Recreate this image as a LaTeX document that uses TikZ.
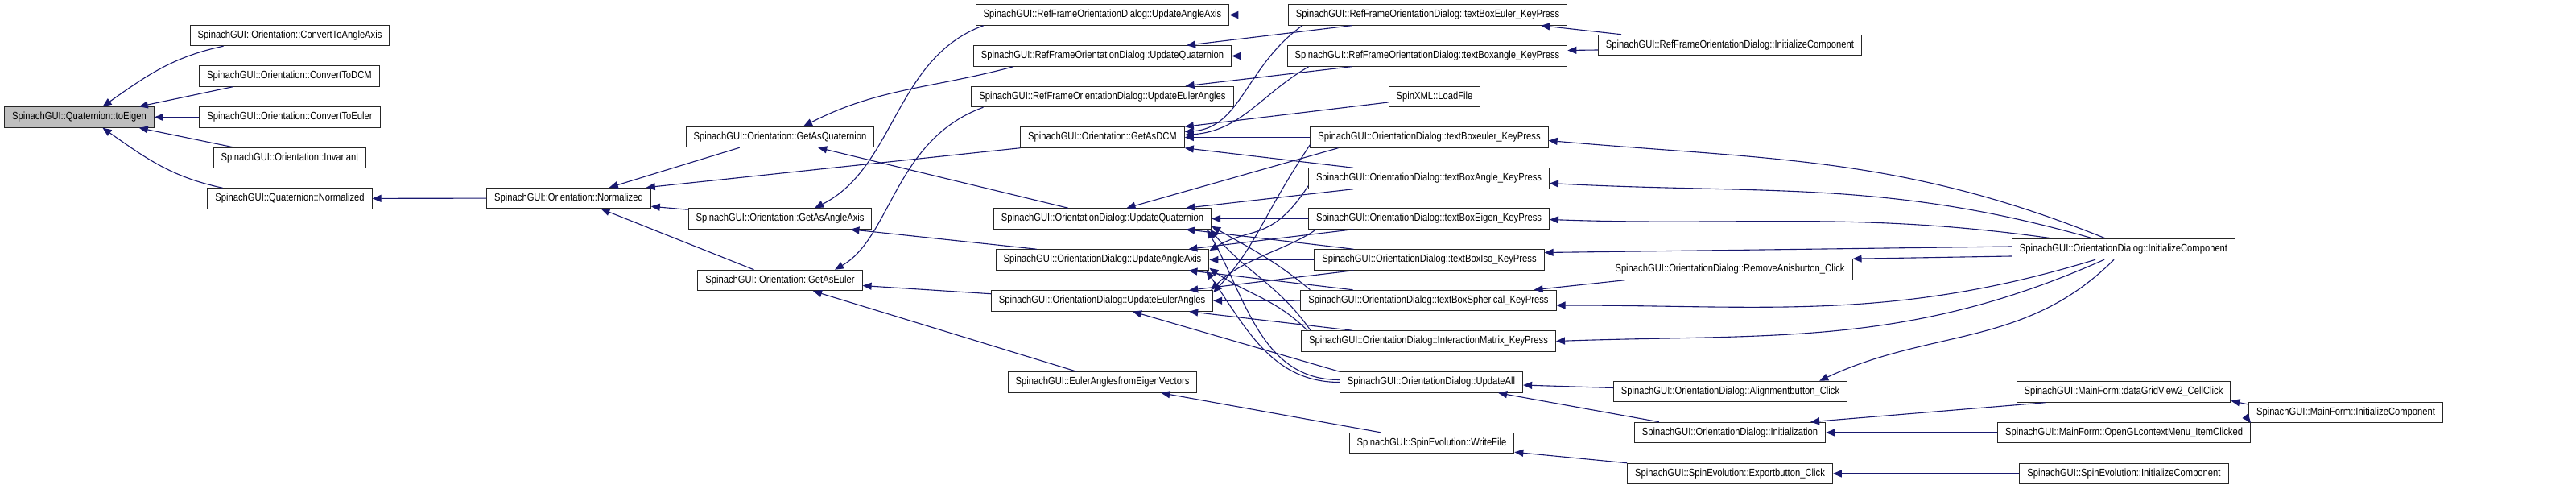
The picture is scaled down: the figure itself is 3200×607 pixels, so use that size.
\documentclass[tikz,border=0pt]{standalone}
\usepackage{fontspec}
\setmainfont{Liberation Sans}[FakeStretch=0.85]
\usepackage{tikz}
\usetikzlibrary{arrows.meta}
\definecolor{dxblue}{RGB}{25,25,112}
\definecolor{dxgrey}{RGB}{191,191,191}
\tikzset{
  fn/.style={
    rectangle, draw=black!85, fill=white, line width=1pt,
    minimum height=25.5pt, inner xsep=9.5pt, inner ysep=0pt,
    font=\fontsize{13.2}{15}\selectfont
  },
  focus/.style={fn, fill=dxgrey},
  call/.style={line width=1.1pt, draw=dxblue, {Triangle[length=11pt,width=9pt]}-},
}

\begin{document}
\begin{tikzpicture}[x=1pt,y=1pt]
  \useasboundingbox (0,0) rectangle (3200,607);
  \fill [white] (0,0) rectangle (3200,607);

  % quaternion and orientation
  \node (toEigen) [focus] at (98.5,461.5)  {SpinachGUI::Quaternion::toEigen};
  \node (cvaa)    [fn]    at (360,563)     {SpinachGUI::Orientation::ConvertToAngleAxis};
  \node (cvdcm)   [fn]    at (359.5,512.5) {SpinachGUI::Orientation::ConvertToDCM};
  \node (cveul)   [fn]    at (360,461.5)   {SpinachGUI::Orientation::ConvertToEuler};
  \node (invar)   [fn]    at (360,411)     {SpinachGUI::Orientation::Invariant};
  \node (qnorm)   [fn]    at (360,360.5)   {SpinachGUI::Quaternion::Normalized};
  \node (onorm)   [fn]    at (706.5,361)   {SpinachGUI::Orientation::Normalized};
  \node (gaq)     [fn]    at (969,437)     {SpinachGUI::Orientation::GetAsQuaternion};
  \node (gaaa)    [fn]    at (969,335.5)   {SpinachGUI::Orientation::GetAsAngleAxis};
  \node (gae)     [fn]    at (969,259)     {SpinachGUI::Orientation::GetAsEuler};

  % update functions
  \node (rfaa)    [fn]    at (1369.5,588.5) {SpinachGUI::RefFrameOrientationDialog::UpdateAngleAxis};
  \node (rfq)     [fn]    at (1369.5,537.5) {SpinachGUI::RefFrameOrientationDialog::UpdateQuaternion};
  \node (rfe)     [fn]    at (1369.5,487)   {SpinachGUI::RefFrameOrientationDialog::UpdateEulerAngles};
  \node (gadcm)   [fn]    at (1369.5,436.5) {SpinachGUI::Orientation::GetAsDCM};
  \node (odq)     [fn]    at (1369.5,335.5) {SpinachGUI::OrientationDialog::UpdateQuaternion};
  \node (odaa)    [fn]    at (1369.5,284.5) {SpinachGUI::OrientationDialog::UpdateAngleAxis};
  \node (ode)     [fn]    at (1369,233.5)   {SpinachGUI::OrientationDialog::UpdateEulerAngles};
  \node (eaev)    [fn]    at (1369.5,132.5) {SpinachGUI::EulerAnglesfromEigenVectors};

  % key press handlers
  \node (rftbe)   [fn]    at (1773.5,588.5) {SpinachGUI::RefFrameOrientationDialog::textBoxEuler\_KeyPress};
  \node (rftba)   [fn]    at (1773,537.5)   {SpinachGUI::RefFrameOrientationDialog::textBoxangle\_KeyPress};
  \node (loadf)   [fn]    at (1782,487)     {SpinXML::LoadFile};
  \node (tbeul)   [fn]    at (1775.5,436.5) {SpinachGUI::OrientationDialog::textBoxeuler\_KeyPress};
  \node (tbang)   [fn]    at (1775,385.5)   {SpinachGUI::OrientationDialog::textBoxAngle\_KeyPress};
  \node (tbeig)   [fn]    at (1775,335.5)   {SpinachGUI::OrientationDialog::textBoxEigen\_KeyPress};
  \node (tbiso)   [fn]    at (1775.5,284.5) {SpinachGUI::OrientationDialog::textBoxIso\_KeyPress};
  \node (tbsph)   [fn]    at (1774.5,234)   {SpinachGUI::OrientationDialog::textBoxSpherical\_KeyPress};
  \node (intm)    [fn]    at (1774.5,183.5) {SpinachGUI::OrientationDialog::InteractionMatrix\_KeyPress};
  \node (updall)  [fn]    at (1778,132.5)   {SpinachGUI::OrientationDialog::UpdateAll};
  \node (wrf)     [fn]    at (1778.5,57)    {SpinachGUI::SpinEvolution::WriteFile};

  % buttons and forms
  \node (rfic)    [fn]    at (2149,551)     {SpinachGUI::RefFrameOrientationDialog::InitializeComponent};
  \node (remov)   [fn]    at (2149,272.5)   {SpinachGUI::OrientationDialog::RemoveAnisbutton\_Click};
  \node (alignb)  [fn]    at (2149.5,121)   {SpinachGUI::OrientationDialog::Alignmentbutton\_Click};
  \node (initz)   [fn]    at (2149,70)      {SpinachGUI::OrientationDialog::Initialization};
  \node (expb)    [fn]    at (2149,19)      {SpinachGUI::SpinEvolution::Exportbutton\_Click};
  \node (odic)    [fn]    at (2638,298)     {SpinachGUI::OrientationDialog::InitializeComponent};
  \node (dgv)     [fn]    at (2638,120.5)   {SpinachGUI::MainForm::dataGridView2\_CellClick};
  \node (ogl)     [fn]    at (2638.5,70)    {SpinachGUI::MainForm::OpenGLcontextMenu\_ItemClicked};
  \node (seic)    [fn]    at (2638.5,19)    {SpinachGUI::SpinEvolution::InitializeComponent};
  \node (mfic)    [fn]    at (2914,95)      {SpinachGUI::MainForm::InitializeComponent};

  % callers of toEigen
  \draw [call] ([xshift=29pt]toEigen.north) to[out=35,in=192] ([xshift=42pt]cvaa.south west);
  \draw [call] ([xshift=-19pt]toEigen.north east) -- ([xshift=42pt]cvdcm.south west);
  \draw [call] (toEigen) -- (cveul);
  \draw [call] ([xshift=-19pt]toEigen.south east) -- ([xshift=25pt]invar.north west);
  \draw [call] ([xshift=29pt]toEigen.south) to[out=-35,in=168] ([xshift=19pt]qnorm.north west);
  \draw [call] (qnorm) -- (onorm);

  % callers of Normalized
  \draw [call] ([xshift=-52pt]onorm.north east) -- ([xshift=67pt]gaq.south west);
  \draw [call] ([xshift=-6pt]onorm.north east) -- (gadcm.south west);
  \draw [call] ([yshift=3pt]onorm.south east) -- ([yshift=-2pt]gaaa.north west);
  \draw [call] ([xshift=40pt]onorm.south) -- ([xshift=70pt]gae.north west);

  % callers of GetAs*
  \draw [call] ([xshift=29pt]gaq.north) to[out=27,in=195] ([xshift=50pt]rfq.south west);
  \draw [call] ([xshift=-70pt]gaq.south east) -- ([xshift=93pt]odq.north west);
  \draw [call] ([xshift=43pt]gaaa.north) .. controls +(100,50) and +(-110,-40) .. ([xshift=10pt]rfaa.south west);
  \draw [call] ([xshift=-27pt]gaaa.south east) -- ([xshift=51pt]odaa.north west);
  \draw [call] ([xshift=68pt]gae.north) .. controls +(70,40) and +(-110,-40) .. ([xshift=15pt]rfe.south west);
  \draw [call] (gae) -- (ode);
  \draw [call] ([xshift=41pt]gae.south) -- ([xshift=86pt]eaev.north west);
  \draw [call] ([xshift=-45pt]eaev.south east) -- ([xshift=39pt]wrf.north west);
  \draw [call] ([yshift=2pt]wrf.south east) -- (expb.north west);
  \draw [call] (expb) -- (seic);

  % reference frame dialog
  \draw [call] (rfaa) -- (rftbe);
  \draw [call] ([xshift=-56pt]rfq.north east) -- ([xshift=79pt]rftbe.south west);
  \draw [call] (rfq) -- (rftba);
  \draw [call] ([xshift=-60pt]rfe.north east) -- ([xshift=80pt]rftba.south west);
  \draw [call] ([yshift=7pt]gadcm.east) .. controls +(70,5) and +(-70,-50) .. ([xshift=18pt]rftbe.south west);
  \draw [call] ([yshift=3pt]gadcm.east) .. controls +(70,5) and +(-60,-35) .. ([xshift=27pt]rftba.south west);
  \draw [call] (gadcm.north east) -- ([yshift=-7pt]loadf.west);
  \draw [call] (gadcm) -- (tbeul);
  \draw [call] (gadcm.south east) -- ([xshift=56pt]tbang.north west);
  \draw [call] ([xshift=-33pt]rftbe.south east) -- ([xshift=29pt]rfic.north west);
  \draw [call] ([yshift=7pt]rftba.east) -- ([yshift=-6pt]rfic.west);

  % orientation dialog updates
  \draw [call] ([xshift=30pt]odq.north) -- ([xshift=35pt]tbeul.south west);
  \draw [call] ([xshift=-32pt]odq.north east) -- ([xshift=56pt]tbang.south west);
  \draw [call] (odq) -- (tbeig);
  \draw [call] ([xshift=-32pt]odq.south east) -- ([xshift=49pt]tbiso.north west);
  \draw [call] ([yshift=4pt]odq.south east) to[out=-30,in=140] ([xshift=12pt]tbsph.north west);
  \draw [call] ([xshift=-2pt]odq.south east) to[out=-50,in=125] ([xshift=12pt]intm.north west);
  \draw [call] ([xshift=-6pt]odq.south east) to[out=-60,in=180] ([yshift=3pt]updall.west);

  \draw [call] ([yshift=-2pt]odaa.north east) .. controls +(50,30) and +(-45,-70) .. ([yshift=4pt]tbang.south west);
  \draw [call] ([xshift=-26pt]odaa.north east) -- ([xshift=56pt]tbeig.south west);
  \draw [call] (odaa) -- (tbiso);
  \draw [call] ([xshift=-26pt]odaa.south east) -- ([xshift=65pt]tbsph.north west);
  \draw [call] ([yshift=3pt]odaa.south east) to[out=-35,in=135] ([xshift=8pt]intm.north west);
  \draw [call] ([xshift=-4pt]odaa.south east) to[out=-55,in=180] (updall.west);

  \draw [call] ([yshift=-3pt]ode.north east) .. controls +(55,60) and +(-60,-90) .. ([yshift=4pt]tbeul.south west);
  \draw [call] ([xshift=-3pt]ode.north east) .. controls +(40,40) and +(-35,-25) .. ([xshift=10pt]tbeig.south west);
  \draw [call] ([xshift=-30pt]ode.north east) -- ([xshift=49pt]tbiso.south west);
  \draw [call] (ode) -- (tbsph);
  \draw [call] ([xshift=-30pt]ode.south east) -- ([xshift=64pt]intm.north west);
  \draw [call] ([xshift=38pt]ode.south) -- (updall.north west);

  % dialog events
  \draw [call] (updall) -- (alignb);
  \draw [call] ([xshift=-31pt]updall.south east) -- ([xshift=31pt]initz.north west);
  \draw [call] ([xshift=-28pt]tbsph.north east) -- ([xshift=22pt]remov.south west);
  \draw [call] (remov.north east) -- ([yshift=-9pt]odic.west);
  \draw [call] ([yshift=9pt]tbiso.east) -- ([yshift=3pt]odic.west);
  \draw [call] ([yshift=-4pt]tbeul.east) to[out=-5,in=158] ([xshift=-23pt]odic.north);
  \draw [call] ([yshift=-6pt]tbang.east) to[out=-3,in=164] ([xshift=-39pt]odic.north);
  \draw [call] ([yshift=-1pt]tbeig.east) to[out=-2,in=172] ([xshift=-90pt]odic.north);
  \draw [call] ([yshift=-6pt]tbsph.east) to[out=0,in=-163] ([xshift=-35pt]odic.south);
  \draw [call] (intm.east) to[out=2,in=-156] ([xshift=-24pt]odic.south);
  \draw [call] ([xshift=-35pt]alignb.north east) to[out=25,in=-135] ([xshift=-12pt]odic.south);

  % main form and spin evolution
  \draw [call] ([xshift=-19pt]initz.north east) -- ([xshift=36pt]dgv.south west);
  \draw [call] (initz) -- (ogl);
  \draw [call] ([yshift=-11pt]dgv.east) -- ([yshift=10pt]mfic.west);
  \draw [call] ([yshift=-1pt]ogl.north east) -- ([yshift=-9pt]mfic.west);
\end{tikzpicture}
\end{document}
